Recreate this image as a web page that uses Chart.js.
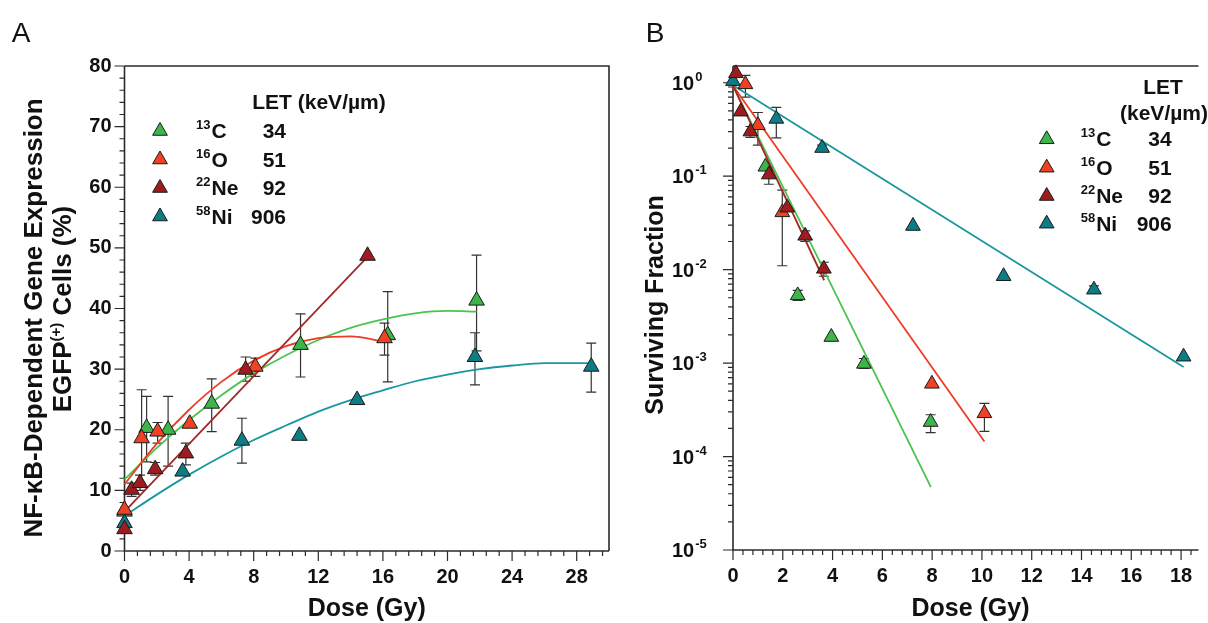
<!DOCTYPE html>
<html>
<head>
<meta charset="utf-8">
<script src="https://cdn.jsdelivr.net/npm/chart.js@4.4.0/dist/chart.umd.min.js"></script>
<style>
  html, body { margin: 0; padding: 0; background: #fff; overflow: hidden; }
  #wrap { position: relative; width: 1208px; height: 623px; }
  #chartA { position: absolute; left: 0; top: 0; }
  #chartB { position: absolute; left: 620px; top: 0; }
</style>
</head>
<body>
<div id="wrap">
  <canvas id="chartA" width="620" height="623"></canvas>
  <canvas id="chartB" width="588" height="623"></canvas>
</div>
<script>
// ions (legend)
var ionMass = ['13', '16', '22', '58'];
var ionName = ['C', 'O', 'Ne', 'Ni'];
var ionLet = ['34', '51', '92', '906'];

// panel A: NF-kB dependent EGFP(+) cells (%) vs dose (Gy)
var aDoseC = [0, 1.37, 2.7, 5.4, 10.9, 16.3, 21.8];
var aPctC = [6.5, 20.3, 20.0, 24.3, 34.0, 35.6, 41.3];
var aLoC = [null, 14.7, 14.0, 19.7, 28.7, 27.9, 33.0];
var aHiC = [null, 25.5, 25.5, 28.4, 39.1, 42.8, 48.8];

var aDoseO = [0, 1.06, 2.05, 4.04, 8.1, 16.1];
var aPctO = [6.8, 18.6, 19.7, 21.0, 30.4, 35.1];
var aLoO = [null, 10.5, 17.8, null, 28.8, 32.3];
var aHiO = [null, 26.6, 21.2, null, 31.8, 37.6];

var aDoseNe = [0, 0.44, 0.96, 1.9, 3.8, 7.5, 15.05];
var aPctNe = [3.6, 10.1, 11.2, 13.5, 16.1, 29.9, 48.7];
var aLoNe = [null, 9.0, 10.0, 12.5, 14.2, 28.0, null];
var aHiNe = [null, 11.2, 12.5, 14.6, 17.8, 32.0, null];

var aDoseNi = [0, 3.6, 7.27, 10.83, 14.4, 21.7, 28.9];
var aPctNi = [4.6, 13.1, 18.2, 19.0, 24.9, 32.0, 30.4];
var aLoNi = [null, null, 14.5, null, null, 27.4, 26.2];
var aHiNi = [null, null, 21.9, null, null, 36.0, 34.3];

// panel A fitted curves
var aFitDoseC = [0, 2, 4, 6, 8, 10, 12, 14, 16, 18, 20, 21.8];
var aFitPctC = [11.8, 17.0, 21.6, 25.7, 29.3, 32.3, 34.8, 36.8, 38.2, 39.2, 39.6, 39.5];
var aFitDoseO = [0, 2, 4, 6, 8, 10, 12, 14, 16.1];
var aFitPctO = [11.0, 17.7, 23.3, 27.9, 31.4, 33.8, 35.1, 35.4, 34.5];
var aFitDoseNe = [0, 15];
var aFitPctNe = [6.5, 48.4];
var aFitDoseNi = [0, 2, 4, 6, 8, 10, 12, 14, 16, 18, 20, 22, 24, 26, 28, 28.9];
var aFitPctNi = [5.8, 9.3, 12.6, 15.6, 18.3, 20.7, 23.0, 24.9, 26.5, 28.0, 29.1, 30.0, 30.6, 31.0, 31.0, 31.0];

// panel B: surviving fraction vs dose (Gy)
var bDoseC = [1.3, 2.6, 3.95, 5.26, 7.94];
var bSfC = [0.126, 0.0053, 0.0019, 0.00098, 0.000234];
var bLoC = [null, 0.0047, null, 0.00088, 0.00018];
var bHiC = [null, 0.006, null, 0.00112, 0.00028];

var bDoseO = [0.5, 1.0, 1.98, 7.99, 10.1];
var bSfO = [0.96, 0.35, 0.041, 0.0006, 0.00029];
var bLoO = [0.70, 0.215, 0.011, null, 0.000186];
var bHiO = [1.2, 0.48, 0.071, null, 0.00037];

var bDoseNe = [0.12, 0.31, 0.7, 1.44, 2.18, 2.9, 3.65];
var bSfNe = [1.26, 0.49, 0.30, 0.104, 0.046, 0.023, 0.0102];
var bLoNe = [null, null, 0.26, 0.082, null, 0.02, 0.0085];
var bHiNe = [null, null, 0.34, 0.125, null, 0.026, 0.012];

var bDoseNi = [0, 1.74, 3.58, 7.23, 10.87, 14.5, 18.1];
var bSfNi = [1.04, 0.41, 0.20, 0.0293, 0.0085, 0.0061, 0.00117];
var bLoNi = [null, 0.257, 0.185, null, null, 0.0056, null];
var bHiNi = [null, 0.545, 0.215, null, null, 0.0067, null];

// panel B fitted lines (end points)
var bFitDoseC = [0, 7.95];
var bFitSfC = [0.93, 0.000047];
var bFitDoseO = [0, 10.1];
var bFitSfO = [0.93, 0.000145];
var bFitDoseNe = [0, 3.66];
var bFitSfNe = [0.93, 0.0077];
var bFitDoseNi = [0, 18.1];
var bFitSfNi = [0.94, 0.00091];

var FONT = "'Liberation Sans', Arial, Helvetica, sans-serif";
var ionFill = ['#3db54a', '#ef4123', '#9e1b20', '#0c7d86'];
var ionLine = ['#4cc34f', '#ef3a26', '#a3282a', '#1997a0'];
var axisColor = '#2b2b2b';

Chart.defaults.font.family = FONT;
Chart.defaults.color = '#111';

function pts(xs, ys) {
  return xs.map(function (x, i) { return { x: x, y: ys[i] }; });
}

function markerSet(i, xs, ys, lo, hi, r) {
  return {
    label: ionMass[i] + ionName[i],
    data: pts(xs, ys),
    errLo: lo,
    errHi: hi,
    showLine: false,
    pointStyle: 'triangle',
    pointRadius: r,
    pointHoverRadius: r,
    backgroundColor: ionFill[i],
    borderColor: '#1a1a1a',
    pointBorderWidth: 1,
    clip: false
  };
}

function fitSet(i, xs, ys) {
  return {
    data: pts(xs, ys),
    showLine: true,
    pointRadius: 0,
    pointHoverRadius: 0,
    borderColor: ionLine[i],
    borderWidth: 1.8,
    tension: 0.4,
    cubicInterpolationMode: 'monotone',
    fill: false,
    clip: false
  };
}

function range(from, to, step, skipEvery) {
  var out = [];
  for (var i = 0; from + i * step <= to + 1e-9; i++) {
    if (skipEvery && i % skipEvery === 0) continue;
    out.push(from + i * step);
  }
  return out;
}

var logMajor = [1e-5, 1e-4, 1e-3, 1e-2, 1e-1, 1];
var logMinor = [];
logMajor.slice(0, 5).forEach(function (p) {
  for (var m = 2; m <= 9; m++) logMinor.push(m * p);
});

// frame + tick marks
var axisMarks = {
  id: 'axisMarks',
  beforeDatasetsDraw: function (chart, args, opts) {
    var ctx = chart.ctx, a = chart.chartArea, xs = chart.scales.x, ys = chart.scales.y;
    ctx.save();
    ctx.strokeStyle = axisColor;
    ctx.lineWidth = 1.6;
    ctx.beginPath();
    ctx.moveTo(a.left, a.top);
    ctx.lineTo(a.left, a.bottom);
    ctx.lineTo(a.right, a.bottom);
    ctx.moveTo(a.left, a.top);
    ctx.lineTo(a.right, a.top);
    if (opts.rightEdge) {
      ctx.lineTo(a.right, a.bottom);
    }
    ctx.stroke();
    ctx.lineWidth = 1.2;
    ctx.beginPath();
    opts.xMajor.forEach(function (v) {
      var x = xs.getPixelForValue(v);
      ctx.moveTo(x, a.bottom); ctx.lineTo(x, a.bottom + 10);
    });
    opts.xMinor.forEach(function (v) {
      var x = xs.getPixelForValue(v);
      ctx.moveTo(x, a.bottom); ctx.lineTo(x, a.bottom + 5);
    });
    opts.yMajor.forEach(function (v) {
      var y = ys.getPixelForValue(v);
      ctx.moveTo(a.left, y); ctx.lineTo(a.left - 10, y);
    });
    opts.yMinor.forEach(function (v) {
      var y = ys.getPixelForValue(v);
      ctx.moveTo(a.left, y); ctx.lineTo(a.left - 5, y);
    });
    ctx.stroke();
    ctx.restore();
  }
};

// vertical error bars with caps
var errorBars = {
  id: 'errorBars',
  beforeDatasetsDraw: function (chart) {
    var ctx = chart.ctx, xs = chart.scales.x, ys = chart.scales.y;
    ctx.save();
    ctx.strokeStyle = '#333';
    ctx.lineWidth = 1.2;
    chart.data.datasets.forEach(function (ds) {
      if (!ds.errLo) return;
      ds.data.forEach(function (p, i) {
        var lo = ds.errLo[i], hi = ds.errHi[i];
        if (lo == null || hi == null) return;
        var x = xs.getPixelForValue(p.x);
        var y1 = ys.getPixelForValue(lo), y2 = ys.getPixelForValue(hi);
        ctx.beginPath();
        ctx.moveTo(x, y1); ctx.lineTo(x, y2);
        ctx.moveTo(x - 5, y1); ctx.lineTo(x + 5, y1);
        ctx.moveTo(x - 5, y2); ctx.lineTo(x + 5, y2);
        ctx.stroke();
      });
    });
    ctx.restore();
  }
};

function drawTri(ctx, x, y, r, fill) {
  ctx.beginPath();
  ctx.moveTo(x, y - r);
  ctx.lineTo(x + r * 0.866, y + r * 0.5);
  ctx.lineTo(x - r * 0.866, y + r * 0.5);
  ctx.closePath();
  ctx.fillStyle = fill;
  ctx.fill();
  ctx.lineWidth = 1;
  ctx.strokeStyle = '#1a1a1a';
  ctx.stroke();
}

function drawLegendRows(ctx, rowsY, triX, massX, valRight) {
  ctx.save();
  ctx.fillStyle = '#111';
  ctx.textBaseline = 'alphabetic';
  rowsY.forEach(function (y, i) {
    drawTri(ctx, triX, y + 1, 8.5, ionFill[i]);
    ctx.fillStyle = '#111';
    ctx.textAlign = 'left';
    ctx.font = 'bold 13px ' + FONT;
    ctx.fillText(ionMass[i], massX, y - 1);
    var mw = ctx.measureText(ionMass[i]).width;
    ctx.font = 'bold 21px ' + FONT;
    ctx.fillText(ionName[i], massX + mw + 1, y + 8);
    ctx.textAlign = 'right';
    ctx.fillText(ionLet[i], valRight, y + 8);
  });
  ctx.restore();
}

function drawSupText(ctx, parts, cx, baseline, bigSize, smallSize, rise) {
  var total = 0;
  parts.forEach(function (p) {
    ctx.font = 'bold ' + (p.sup ? smallSize : bigSize) + 'px ' + FONT;
    p.w = ctx.measureText(p.t).width;
    total += p.w;
  });
  var x = cx - total / 2;
  ctx.textAlign = 'left';
  parts.forEach(function (p) {
    ctx.font = 'bold ' + (p.sup ? smallSize : bigSize) + 'px ' + FONT;
    ctx.fillText(p.t, x, p.sup ? baseline - rise : baseline);
    x += p.w;
  });
}

var textA = {
  id: 'textA',
  afterDraw: function (chart) {
    var ctx = chart.ctx, a = chart.chartArea;
    ctx.save();
    ctx.fillStyle = '#111';
    ctx.font = '28px ' + FONT;
    ctx.textAlign = 'center';
    ctx.textBaseline = 'middle';
    ctx.fillText('A', 21, 34);

    ctx.font = 'bold 25px ' + FONT;
    ctx.textBaseline = 'alphabetic';
    ctx.fillText('Dose (Gy)', (a.left + a.right) / 2, 616);

    ctx.save();
    ctx.translate(0, 318);
    ctx.rotate(-Math.PI / 2);
    ctx.textAlign = 'center';
    ctx.font = 'bold 26px ' + FONT;
    ctx.fillText('NF-\u03BAB-Dependent Gene Expression', 0, 42);
    drawSupText(ctx, [{ t: 'EGFP' }, { t: '(+)', sup: true }, { t: ' Cells (%)' }], 9, 71, 26, 15, 10);
    ctx.restore();

    ctx.font = 'bold 21px ' + FONT;
    ctx.textAlign = 'center';
    ctx.fillText('LET (keV/\u00B5m)', 319, 109);
    drawLegendRows(ctx, [130, 158.5, 187, 215.5], 160, 196, 286);
    ctx.restore();
  }
};

var textB = {
  id: 'textB',
  afterDraw: function (chart) {
    var ctx = chart.ctx, a = chart.chartArea, ys = chart.scales.y;
    ctx.save();
    ctx.fillStyle = '#111';
    ctx.font = '28px ' + FONT;
    ctx.textAlign = 'center';
    ctx.textBaseline = 'middle';
    ctx.fillText('B', 35, 34);

    ctx.textBaseline = 'alphabetic';
    ctx.font = 'bold 25px ' + FONT;
    ctx.fillText('Dose (Gy)', (a.left + 588) / 2, 616);

    ctx.save();
    ctx.translate(0, 305);
    ctx.rotate(-Math.PI / 2);
    ctx.fillText('Surviving Fraction', 0, 43);
    ctx.restore();

    // log tick labels 10^k
    logMajor.forEach(function (v) {
      var y = ys.getPixelForValue(v);
      var k = Math.round(Math.log10(v));
      ctx.textAlign = 'left';
      ctx.font = 'bold 20px ' + FONT;
      ctx.fillText('10', 52, y + 7);
      var w = ctx.measureText('10').width;
      ctx.font = 'bold 13px ' + FONT;
      ctx.fillText(String(k), 52 + w + 1, y - 2);
    });

    ctx.font = 'bold 21px ' + FONT;
    ctx.textAlign = 'center';
    ctx.fillText('LET', 543, 94);
    ctx.fillText('(keV/\u00B5m)', 544, 120);
    drawLegendRows(ctx, [138.3, 166.7, 195, 222.7], 426.7, 460.7, 551.7);
    ctx.restore();
  }
};

var tickFont = { size: 20, weight: 'bold' };

var chartA = new Chart(document.getElementById('chartA'), {
  type: 'scatter',
  data: {
    datasets: [
      markerSet(2, aDoseNe, aPctNe, aLoNe, aHiNe, 9),
      markerSet(1, aDoseO, aPctO, aLoO, aHiO, 9),
      markerSet(3, aDoseNi, aPctNi, aLoNi, aHiNi, 9),
      markerSet(0, aDoseC, aPctC, aLoC, aHiC, 9),
      fitSet(2, aFitDoseNe, aFitPctNe),
      fitSet(1, aFitDoseO, aFitPctO),
      fitSet(0, aFitDoseC, aFitPctC),
      fitSet(3, aFitDoseNi, aFitPctNi)
    ]
  },
  options: {
    responsive: false,
    animation: false,
    devicePixelRatio: 1,
    layout: { padding: { left: 0, top: 66, right: 11, bottom: 0 } },
    plugins: {
      legend: { display: false },
      tooltip: { enabled: false },
      axisMarks: {
        rightEdge: true,
        xMajor: range(0, 28, 4),
        xMinor: range(0, 30, 0.8, 5),
        yMajor: range(0, 80, 10),
        yMinor: range(0, 80, 2, 5)
      }
    },
    scales: {
      x: {
        type: 'linear',
        min: 0,
        max: 30,
        afterFit: function (s) { s.height = 72; },
        grid: { display: false, drawTicks: false },
        border: { display: false },
        ticks: { stepSize: 4, includeBounds: false, padding: 14, maxRotation: 0, font: tickFont, color: '#111' }
      },
      y: {
        min: 0,
        max: 80,
        afterFit: function (s) { s.width = 124.5; },
        grid: { display: false, drawTicks: false },
        border: { display: false },
        ticks: { stepSize: 10, padding: 13, font: tickFont, color: '#111' }
      }
    }
  },
  plugins: [axisMarks, errorBars, textA]
});

var chartB = new Chart(document.getElementById('chartB'), {
  type: 'scatter',
  data: {
    datasets: [
      markerSet(2, bDoseNe, bSfNe, bLoNe, bHiNe, 8.5),
      markerSet(1, bDoseO, bSfO, bLoO, bHiO, 8.5),
      markerSet(3, bDoseNi, bSfNi, bLoNi, bHiNi, 8.5),
      markerSet(0, bDoseC, bSfC, bLoC, bHiC, 8.5),
      fitSet(2, bFitDoseNe, bFitSfNe),
      fitSet(1, bFitDoseO, bFitSfO),
      fitSet(0, bFitDoseC, bFitSfC),
      fitSet(3, bFitDoseNi, bFitSfNi)
    ]
  },
  options: {
    responsive: false,
    animation: false,
    devicePixelRatio: 1,
    layout: { padding: { left: 0, top: 66, right: 0, bottom: 0 } },
    plugins: {
      legend: { display: false },
      tooltip: { enabled: false },
      axisMarks: {
        rightEdge: false,
        xMajor: range(0, 18, 2),
        xMinor: range(0, 18.7, 0.4, 5),
        yMajor: logMajor,
        yMinor: logMinor
      }
    },
    scales: {
      x: {
        type: 'linear',
        min: 0,
        max: 18.7,
        afterFit: function (s) { s.height = 73; },
        grid: { display: false, drawTicks: false },
        border: { display: false },
        ticks: { stepSize: 2, includeBounds: false, padding: 14, maxRotation: 0, font: tickFont, color: '#111' }
      },
      y: {
        type: 'logarithmic',
        min: 1e-5,
        max: 1.51,
        afterFit: function (s) { s.width = 113; },
        grid: { display: false, drawTicks: false },
        border: { display: false },
        ticks: { display: false }
      }
    }
  },
  plugins: [axisMarks, errorBars, textB]
});
</script>
</body>
</html>
